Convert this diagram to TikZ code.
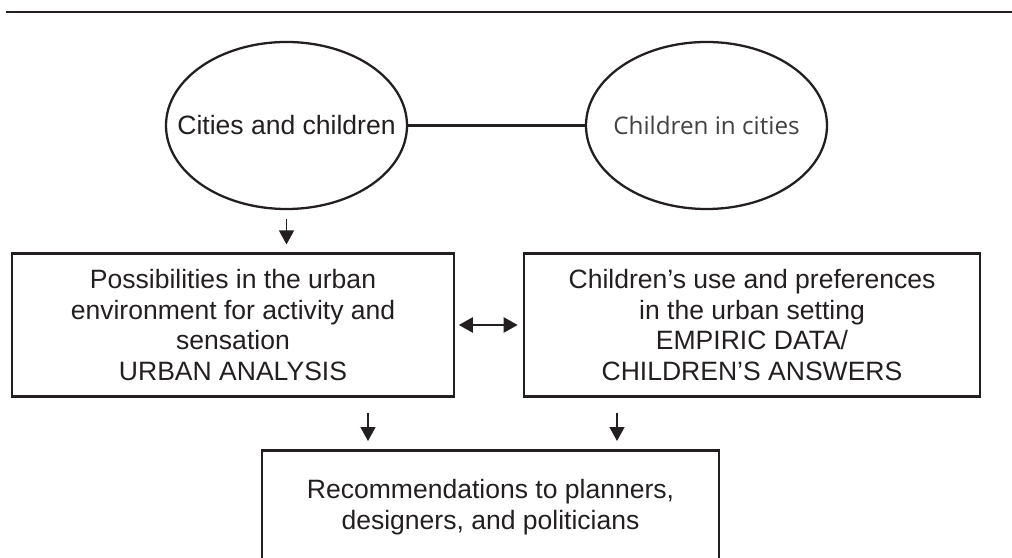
\documentclass[tikz,border=0pt]{standalone}
\usepackage{fontspec}
\setmainfont{Liberation Sans}
\newfontfamily\topicfont{Open Sans}
\usetikzlibrary{shapes.geometric,arrows.meta}
\definecolor{ink}{RGB}{35,31,32}

\begin{document}
\begin{tikzpicture}[font=\fontsize{15.1}{17.6}\selectfont, color=ink, >={Triangle[length=0.28cm,width=0.3cm]},
      topic/.style={draw, ellipse, line width=1.3pt, minimum width=4.82cm, minimum height=3.34cm, inner sep=0pt},
      box/.style={draw, line width=1.5pt, align=center, inner sep=0pt, minimum height=2.85cm},
      flow/.style={->, line width=0.85pt, shorten >=0.16cm}]
    \clip (0,0) rectangle (20.24,11.14);
    \draw[line width=1.5pt] (0.12,10.9) -- (20.24,10.9);
    % the two starting points (zero-width text keeps the ellipses tight)
    \node[topic] (cac) at (5.73,8.63) {\makebox[0pt]{Cities and children}};
    \node[topic, font=\topicfont\fontsize{13.8}{16}\selectfont, text=ink!85] (cic) at (14.13,8.63) {\makebox[0pt]{Children in cities}};
    \draw[line width=1.3pt] (cac) -- (cic);
    % analysis and survey
    \node[box, minimum width=8.84cm] (urb) at (4.66,4.64) {Possibilities in the urban\\environment for activity and\\sensation\\URBAN ANALYSIS};
    \node[box, minimum width=9.12cm] (emp) at (15.04,4.64) {Children’s use and preferences\\in the urban setting\\EMPIRIC DATA/\\CHILDREN’S ANSWERS};
    \node[box, minimum width=9.14cm, minimum height=2.26cm, anchor=north] (rec) at (9.81,2.16) {Recommendations to planners,\\designers, and politicians};
    \coordinate (lft) at (7.36,0);
    \coordinate (rgt) at (12.34,0);
    \draw[flow, shorten <=0.17cm] (cac.south) -- (cac.south |- urb.north);
    \draw[<->, line width=1.3pt, shorten <=0.07cm, shorten >=0.1cm] (urb.east) -- (emp.west);
    \draw[flow, shorten <=0.31cm] (urb.south -| lft) -- (rec.north -| lft);
    \draw[flow, shorten <=0.31cm] (emp.south -| rgt) -- (rec.north -| rgt);
  \end{tikzpicture}
\end{document}
